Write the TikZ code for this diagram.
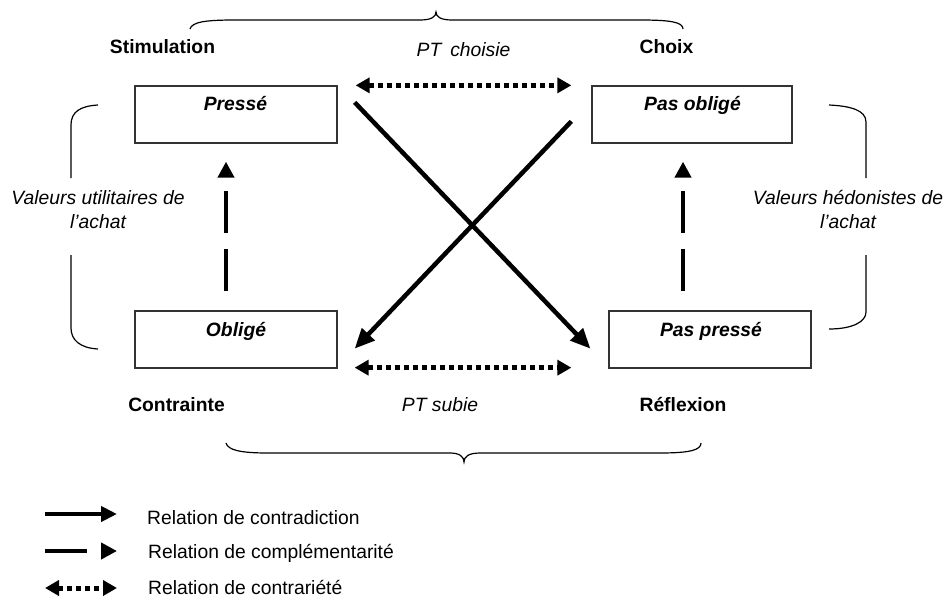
\documentclass[tikz,border=0pt]{standalone}
\usepackage{fontspec}
\setmainfont{Liberation Sans}
\usetikzlibrary{arrows.meta,calc}
\begin{document}
\begin{tikzpicture}[x=1pt,y=-1pt,
  box/.style={draw=black!80,line width=1.3pt,minimum width=202pt,minimum height=57pt,inner sep=0pt},
  lab/.style={font=\fontsize{19.3}{23}\selectfont,anchor=base,inner sep=0pt},
  itlab/.style={lab,font=\fontsize{19.3}{23}\selectfont\itshape},
  boldlab/.style={lab,font=\fontsize{19.3}{23}\selectfont\bfseries},
  boxlab/.style={lab,font=\fontsize{19.3}{23}\selectfont\bfseries\itshape},
  leglab/.style={font=\fontsize{19.3}{23}\selectfont,anchor=base west,inner sep=0pt},
  bracestyle/.style={line width=1.2pt,black},
  contra/.style={line width=4.5pt,-{Triangle[length=20pt,width=17pt]}},
  compl/.style={line width=4.5pt,dash pattern=on 42pt off 16pt,-{Triangle[length=16pt,width=16pt]}},
  contr/.style={line width=5pt,dash pattern=on 5pt off 4pt,{Triangle[length=14pt,width=15pt]}-{Triangle[length=14pt,width=15pt]}}
]
\useasboundingbox (0,0) rectangle (947,597);

% boxes
\node[box] (presse) at (236,114.5) {};
\node[box,minimum width=200pt] (pasoblige) at (692,114.5) {};
\node[box] (oblige) at (236,339.5) {};
\node[box] (paspresse) at (710,339.5) {};

\node[boxlab] (tpresse) at (235.5,110) {Pressé};
\node[boxlab] (tpasoblige) at (692.5,110) {Pas obligé};
\node[boxlab] (toblige) at (236,336) {Obligé};
\node[boxlab] (tpaspresse) at (711,336) {Pas pressé};

% corner labels
\node[boldlab] (stim) at (162.5,53) {Stimulation};
\node[boldlab] (choix) at (666.5,53) {Choix};
\node[boldlab] (contrainte) at (176.5,411) {Contrainte};
\node[boldlab] (reflexion) at (683,411) {Réflexion};
\node[itlab] (ptchoisie) at (463.5,56) {PT\hspace{9pt}choisie};
\node[itlab] (ptsubie) at (440,411) {PT subie};

% side labels
\node[itlab] (vu1) at (98,204) {Valeurs utilitaires de};
\node[itlab] (vu2) at (98,228) {l’achat};
\node[itlab] (vh1) at (848,204) {Valeurs hédonistes de};
\node[itlab] (vh2) at (848,228) {l’achat};

% braces
\draw[bracestyle] (190,29) .. controls (192,22) and (205,20) .. (235,20) -- (420,20)
  .. controls (431,20) and (436,17) .. (436,12)
  .. controls (436,17) and (441,20) .. (452,20) -- (640,20)
  .. controls (670,20) and (683,22) .. (683,29);
\draw[bracestyle] (226,443) .. controls (228,450) and (240,453) .. (268,453) -- (450,453)
  .. controls (460,453) and (464,457) .. (464,462)
  .. controls (464,457) and (468,453) .. (480,453) -- (660,453)
  .. controls (690,453) and (701,450) .. (701,443);
\draw[bracestyle] (98,105) .. controls (80,106) and (71,112) .. (71,125) -- (71,178);
\draw[bracestyle] (71,255) -- (71,328) .. controls (71,340) and (80,348) .. (98,349);
\draw[bracestyle] (829,105) .. controls (850,106) and (866,110) .. (866,122) -- (866,178);
\draw[bracestyle] (866,255) -- (866,312) .. controls (866,322) and (852,329) .. (829,329);

% relations
\draw[contra] ($(presse.north east)+(17,17)$) -- ($(paspresse.south west)+(-18,-20)$);
\draw[contra] ($(pasoblige.north west)+(-20,36)$) -- ($(oblige.south east)+(17,-20)$);
\draw[contr] ($(presse.north east)+(18,0)$) -- ($(pasoblige.north west)+(-20,0)$);
\draw[contr] ($(oblige.south east)+(17,-1)$) -- ($(paspresse.south west)+(-37,-1)$);
\draw[compl] ($(oblige.north)+(-10,-19)$) -- ($(presse.south)+(-10,18)$);
\draw[compl] ($(paspresse.north)+(-27,-19)$) -- ($(pasoblige.south)+(-9,18)$);

% legend
\coordinate (l1a) at (45,514); \coordinate (l1b) at (117,514);
\coordinate (l2a) at (45,551); \coordinate (l2b) at (117,551);
\coordinate (l3a) at (45,588); \coordinate (l3b) at (117,588);
\draw[contra,-{Triangle[length=16pt,width=15pt]}] (l1a) -- (l1b);
\draw[compl] (l2a) -- (l2b);
\draw[contr] (l3a) -- (l3b);
\node[leglab] (leg1) at (147,524) {Relation de contradiction};
\node[leglab] (leg2) at (148,558) {Relation de complémentarité};
\node[leglab] (leg3) at (148,594) {Relation de contrariété};
\end{tikzpicture}
\end{document}
